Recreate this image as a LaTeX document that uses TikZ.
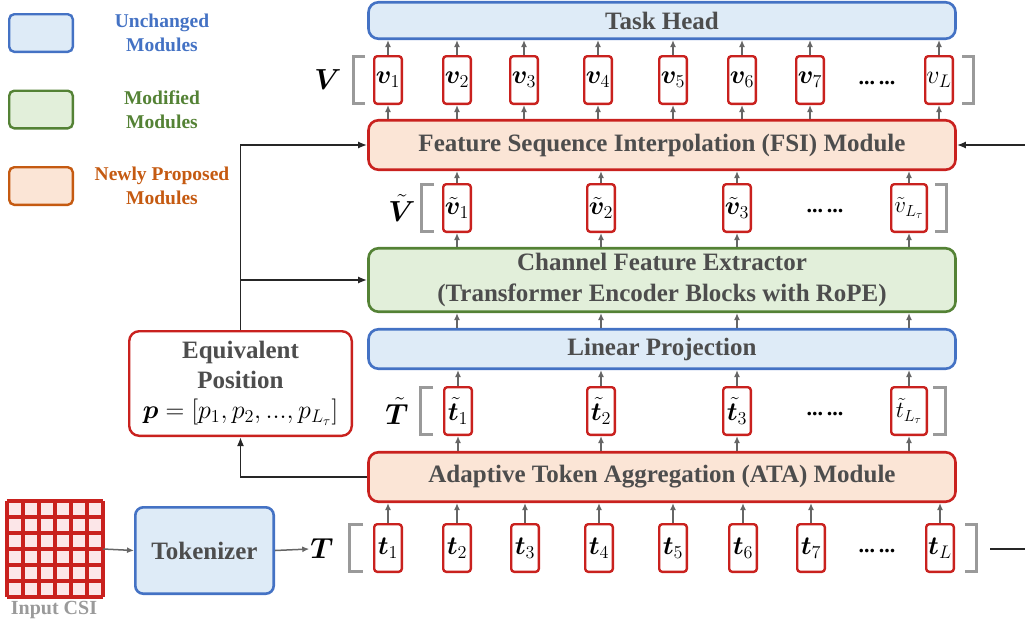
\RequirePackage{fix-cm}
\documentclass[tikz,border=0pt]{standalone}
\usepackage{amsmath,bm,graphicx}
\usepackage{fontspec}
\setmainfont{Liberation Serif}
\usetikzlibrary{arrows.meta,calc}
\definecolor{ublue}{HTML}{4472C4}
\definecolor{ubluefill}{HTML}{DEEBF7}
\definecolor{mgreen}{HTML}{548235}
\definecolor{mgreenfill}{HTML}{E2EFDA}
\definecolor{nred}{HTML}{C9211E}
\definecolor{nfill}{HTML}{FBE5D6}
\definecolor{norange}{HTML}{C55A11}
\definecolor{txtgray}{HTML}{4D4D4D}
\definecolor{brgray}{HTML}{9A9A9A}
\definecolor{argray}{HTML}{666666}
\definecolor{cellpink}{HTML}{FCE6E8}
\newcommand{\modfont}{\fontsize{25}{31}\selectfont\bfseries}
\newcommand{\tkm}[1]{\scalebox{1.3}{$#1$}}
\newcommand{\tkw}[1]{\scalebox{1.15}{$#1$}}
\newcommand{\lbm}[1]{\scalebox{1.45}{$#1$}}
\begin{document}
\begin{tikzpicture}[x=1pt,y=-1pt,
  module/.style={rounded corners=10pt,line width=2.6pt,minimum width=587pt,align=center,font=\modfont,text=txtgray,inner sep=0pt},
  bluemod/.style={module,draw=ublue,fill=ubluefill},
  greenmod/.style={module,draw=mgreen,fill=mgreenfill},
  redmod/.style={module,draw=nred,fill=nfill},
  tokbox/.style={draw=nred,fill=white,line width=2.4pt,rounded corners=3pt,minimum width=27.6pt,minimum height=47.6pt,inner sep=0pt,font=\fontsize{20}{20}\selectfont},
  widetok/.style={tokbox,minimum width=35.6pt},
  legbox/.style={rounded corners=5pt,line width=2.4pt,minimum width=63.6pt,minimum height=37.6pt},
  legtext/.style={font=\fontsize{19.5}{24.5}\selectfont\bfseries,align=center},
  seqlabel/.style={font=\fontsize{20}{20}\selectfont,inner sep=1pt},
  dotsnode/.style={font=\fontsize{22}{22}\selectfont\bfseries,text=black,inner sep=0pt},
  brack/.style={draw=brgray,line width=3pt},
  garrow/.style={draw=argray,line width=1.5pt,-{Latex[length=7pt,width=6pt]}},
  barrow/.style={draw=black!85,line width=1.8pt,-{Latex[length=9pt,width=7pt]}},
  bline/.style={draw=black!85,line width=1.8pt}
]
\useasboundingbox (0,0) rectangle (1025,630);

% legend
\node[legbox,draw=ublue,fill=ubluefill] (lg1) at (41,33) {};
\node[legbox,draw=mgreen,fill=mgreenfill] (lg2) at (41,109.5) {};
\node[legbox,draw=norange,fill=nfill] (lg3) at (41,186) {};
\node[legtext,text=ublue] (lt1) at (162,33) {Unchanged\\Modules};
\node[legtext,text=mgreen] (lt2) at (162,109.5) {Modified\\Modules};
\node[legtext,text=norange] (lt3) at (162,186) {Newly Proposed\\Modules};

% modules
\node[bluemod,minimum height=36.5pt] (head) at (662,20.5) {Task Head};
\node[redmod,minimum height=49.5pt] (fsi) at (662,145) {Feature Sequence Interpolation (FSI) Module};
\node[greenmod,minimum height=63.5pt] (cfe) at (662,280) {Channel Feature Extractor\\(Transformer Encoder Blocks with RoPE)};
\node[bluemod,minimum height=39.5pt] (lp) at (662,349) {Linear Projection};
\node[redmod,minimum height=49.5pt] (ata) at (662,477) {Adaptive Token Aggregation (ATA) Module};

% V row
\node[seqlabel] (Vlab) at (328,80) {\lbm{\bm{V}}};
\node[tokbox] (v1) at (388,80) {\tkm{\bm{v}_1}};
\node[tokbox] (v2) at (457,80) {\tkm{\bm{v}_2}};
\node[tokbox] (v3) at (524,80) {\tkm{\bm{v}_3}};
\node[tokbox] (v4) at (598,80) {\tkm{\bm{v}_4}};
\node[tokbox] (v5) at (673,80) {\tkm{\bm{v}_5}};
\node[tokbox] (v6) at (742,80) {\tkm{\bm{v}_6}};
\node[tokbox] (v7) at (810,80) {\tkm{\bm{v}_7}};
\node[dotsnode] (vd) at (877,83) {...\,...};
\node[tokbox] (vL) at (939,80) {\tkm{v_L}};
\draw[brack] (365,56.5) -- (353.5,56.5) -- (353.5,103.5) -- (365,103.5);
\draw[brack] (962,56.5) -- (973.5,56.5) -- (973.5,103.5) -- (962,103.5);

% V tilde row
\node[seqlabel] (Vtlab) at (402,208) {\lbm{\tilde{\bm{V}}}};
\node[tokbox] (vt1) at (457,208) {\tkm{\tilde{\bm{v}}_1}};
\node[tokbox] (vt2) at (601,208) {\tkm{\tilde{\bm{v}}_2}};
\node[tokbox] (vt3) at (737,208) {\tkm{\tilde{\bm{v}}_3}};
\node[dotsnode] (vtd) at (825,211) {...\,...};
\node[widetok] (vtL) at (909,208) {\tkw{\tilde{v}_{L_\tau}}};
\draw[brack] (434,184.5) -- (421.5,184.5) -- (421.5,231.5) -- (434,231.5);
\draw[brack] (935,184.5) -- (946.5,184.5) -- (946.5,231.5) -- (935,231.5);

% T tilde row
\node[seqlabel] (Ttlab) at (397,411) {\lbm{\tilde{\bm{T}}}};
\node[tokbox] (tt1) at (458,411) {\tkm{\tilde{\bm{t}}_1}};
\node[tokbox] (tt2) at (601,411) {\tkm{\tilde{\bm{t}}_2}};
\node[tokbox] (tt3) at (737,411) {\tkm{\tilde{\bm{t}}_3}};
\node[dotsnode] (ttd) at (825,414) {...\,...};
\node[widetok] (ttL) at (909,411) {\tkw{\tilde{t}_{L_\tau}}};
\draw[brack] (433,387.5) -- (420.5,387.5) -- (420.5,434.5) -- (433,434.5);
\draw[brack] (933,387.5) -- (945.5,387.5) -- (945.5,434.5) -- (933,434.5);

% T row
\node[seqlabel] (Tlab) at (322,549) {\lbm{\bm{T}}};
\node[tokbox] (t1) at (388,548) {\tkm{\bm{t}_1}};
\node[tokbox] (t2) at (457,548) {\tkm{\bm{t}_2}};
\node[tokbox] (t3) at (525,548) {\tkm{\bm{t}_3}};
\node[tokbox] (t4) at (599,548) {\tkm{\bm{t}_4}};
\node[tokbox] (t5) at (673,548) {\tkm{\bm{t}_5}};
\node[tokbox] (t6) at (743,548) {\tkm{\bm{t}_6}};
\node[tokbox] (t7) at (811,548) {\tkm{\bm{t}_7}};
\node[dotsnode] (td) at (877,551) {...\,...};
\node[tokbox] (tL) at (940,548) {\tkm{\bm{t}_L}};
\draw[brack] (363,524.5) -- (349.5,524.5) -- (349.5,571.5) -- (363,571.5);
\draw[brack] (965,524.5) -- (976.5,524.5) -- (976.5,571.5) -- (965,571.5);

% gray arrows
\foreach \n in {v1,v2,v3,v4,v5,v6,v7,vL}{
  \draw[garrow] (\n.north) -- (head.south -| \n);
  \draw[garrow] (fsi.north -| \n) -- (\n.south);
}
\foreach \n in {vt1,vt2,vt3,vtL}{
  \draw[garrow] (\n.north) -- (fsi.south -| \n);
  \draw[garrow] (cfe.north -| \n) -- (\n.south);
  \draw[garrow] (lp.north -| \n) -- (cfe.south -| \n);
}
\foreach \n in {tt1,tt2,tt3,ttL}{
  \draw[garrow] (\n.north) -- (lp.south -| \n);
  \draw[garrow] (ata.north -| \n) -- (\n.south);
}
\foreach \n in {t1,t2,t3,t4,t5,t6,t7,tL}{
  \draw[garrow] (\n.north) -- (ata.south -| \n);
}

% equivalent position
\node[draw=nred,fill=white,line width=2.4pt,rounded corners=10pt,minimum width=222.6pt,minimum height=104.6pt,align=center,inner sep=0pt,text=txtgray,font=\fontsize{25}{30}\selectfont\bfseries] (eq) at (240.5,383.5)
  {Equivalent\\Position\\{\fontsize{20}{30}\selectfont\color{black}\scalebox{1.3}{$\bm{p}=[p_1,p_2,...,p_{L_\tau}]$}}};

\draw[barrow] (eq.north) |- (fsi.west);
\draw[barrow] (eq.north) |- (cfe.west);
\draw[barrow] (ata.west) -| (eq.south);

% right-side connectors
\coordinate (rin) at (1025,145);
\draw[barrow] (rin) -- (fsi.east);
\coordinate (rstart) at (990,549);
\coordinate (rout) at (1025,549);
\draw[bline] (rstart) -- (rout);

% input CSI grid
\node[minimum width=96pt,minimum height=96pt,inner sep=0pt] (csi) at (55,549) {};
\fill[cellpink] (csi.north west) rectangle (csi.south east);
\foreach \i in {0,...,6}{
  \draw[nred,line width=4pt] ($(csi.north west)+(16*\i,0)$) -- ($(csi.south west)+(16*\i,0)$);
  \draw[nred,line width=4pt] ($(csi.north west)+(0,16*\i)$) -- ($(csi.north east)+(0,16*\i)$);
}
\node[font=\fontsize{20}{20}\selectfont\bfseries,text=brgray] (csilab) at (54,610) {Input CSI};

\node[draw=ublue,fill=ubluefill,line width=2.6pt,rounded corners=8pt,minimum width=138.4pt,minimum height=86.4pt,font=\modfont,text=txtgray] (tok) at (204.5,550.5) {Tokenizer};
\draw[garrow] (csi.east) -- (tok.west);
\draw[garrow] (tok.east) -- (Tlab.west);
\end{tikzpicture}
\end{document}
